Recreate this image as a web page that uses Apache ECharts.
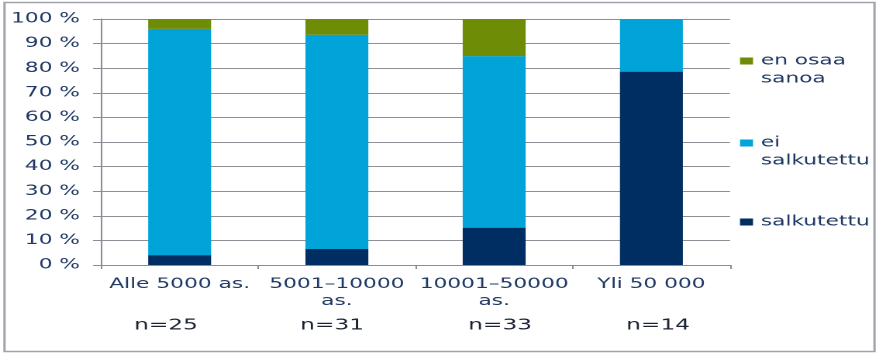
<!DOCTYPE html>
<html>
<head>
<meta charset="utf-8">
<script src="https://cdn.jsdelivr.net/npm/echarts@6/dist/echarts.min.js"></script>
<style>
html,body{margin:0;padding:0;background:#fff;overflow:hidden;}
#chart{width:567px;height:355px;transform:scaleX(1.5503);transform-origin:0 0;}
</style>
</head>
<body>
<div id="chart"></div>
<script>
var categories = ['Alle 5000 as.', '5001\u201310000\nas.', '10001\u201350000\nas.', 'Yli 50 000'];
var nLabels = ['n=25', 'n=31', 'n=33', 'n=14'];
var salkutettu = [4, 6.5, 15.2, 78.6];
var eiSalkutettu = [92, 87.1, 69.7, 21.4];
var enOsaaSanoa = [4, 6.4, 15.1, 0];
var yTicks = [0, 10, 20, 30, 40, 50, 60, 70, 80, 90, 100];
var legendNames = {
  'en osaa sanoa': '\nen osaa\nsanoa',
  'ei salkutettu': '\nei\nsalkutettu',
  'salkutettu': 'salkutettu'
};

var S = 1.5503; // horizontal stretch of the reference
var FONT = 'DejaVu Sans';
var NAVY = '#1F3864';
var chart = echarts.init(document.getElementById('chart'), null, {renderer: 'canvas', devicePixelRatio: 2});

function legendFor(name, top) {
  return {
    orient: 'vertical', left: 740 / S, top: top, itemWidth: 13 / S, itemHeight: 7, itemGap: 0,
    icon: 'rect', padding: 0,
    data: [name],
    formatter: function (n) { return legendNames[n]; },
    textStyle: {fontFamily: FONT, fontSize: 14, color: NAVY, lineHeight: 18, padding: [0, 0, 0, 0]}
  };
}

var nStyle = {fontFamily: FONT, fontSize: 15, color: '#1b2233'};
var nRich = {
  p0: Object.assign({padding: [0, 17.6, 0, 0]}, nStyle),
  p1: Object.assign({padding: [0, 6.2, 0, 0]}, nStyle),
  p2: Object.assign({padding: [0, 0, 0, 7.7]}, nStyle),
  p3: Object.assign({padding: [0, 0, 0, 8.6]}, nStyle)
};

var option = {
  animation: false,
  backgroundColor: '#ffffff',
  grid: {left: 101 / S, right: 149 / S, top: 19, bottom: 90, containLabel: false},
  legend: [
    legendFor('en osaa sanoa', 34),
    legendFor('ei salkutettu', 116),
    legendFor('salkutettu', 213)
  ],
  xAxis: [{
    type: 'category', data: categories, position: 'bottom',
    axisLine: {show: true, lineStyle: {color: '#8c8c96', width: 1}},
    axisTick: {show: true, length: 4, alignWithLabel: false, lineStyle: {color: '#8c8c96'}},
    axisLabel: {fontFamily: FONT, fontSize: 14, color: NAVY, lineHeight: 17, margin: 11, interval: 0}
  }, {
    type: 'category', data: nLabels, position: 'bottom', offset: 45,
    axisLine: {show: false}, axisTick: {show: false},
    axisLabel: {
      fontFamily: FONT, fontSize: 15, color: '#1b2233', margin: 8, interval: 0,
      formatter: function (v, i) { return '{p' + i + '|' + v + '}'; },
      rich: nRich
    }
  }],
  yAxis: {
    type: 'value', min: 0, max: 100, interval: 10,
    axisLine: {show: true, lineStyle: {color: '#8c8c96', width: 1}},
    axisTick: {show: true, length: 8 / S, lineStyle: {color: '#8c8c96'}},
    splitLine: {show: true, lineStyle: {color: '#8e8e96', width: 1}},
    axisLabel: {
      fontFamily: FONT, fontSize: 14, color: NAVY, margin: 21 / S,
      formatter: function (v) { return yTicks.indexOf(v) >= 0 ? v + ' %' : ''; }
    }
  },
  series: [{
    name: 'salkutettu', type: 'bar', stack: 'total', barWidth: '40%',
    itemStyle: {color: '#002D62'}, data: salkutettu
  }, {
    name: 'ei salkutettu', type: 'bar', stack: 'total', barWidth: '40%',
    itemStyle: {color: '#00A4D8'}, data: eiSalkutettu
  }, {
    name: 'en osaa sanoa', type: 'bar', stack: 'total', barWidth: '40%',
    itemStyle: {color: '#6E8C06'}, data: enOsaaSanoa
  }],
  graphic: [{
    type: 'rect', silent: true, z: -1,
    shape: {x: 4.5 / S, y: 2.5, width: 870 / S, height: 349},
    style: {fill: 'none', stroke: '#a2a2ac', lineWidth: 1.5}
  }]
};
chart.setOption(option);
</script>
</body>
</html>
